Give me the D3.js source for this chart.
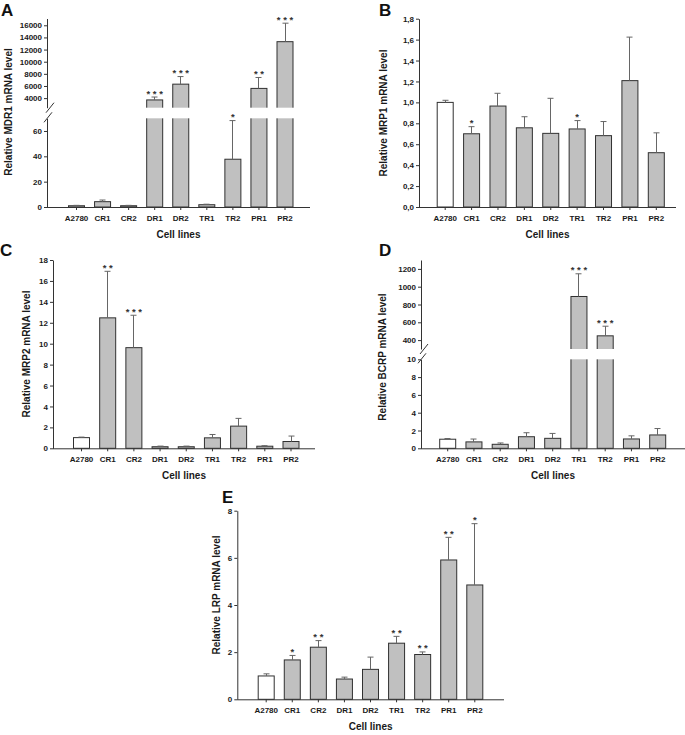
<!DOCTYPE html>
<html>
<head>
<meta charset="utf-8">
<script src="https://cdn.jsdelivr.net/npm/d3@7"></script>
<style>
  html, body { margin: 0; padding: 0; background: #fff; }
  svg { display: block; font-family: "Liberation Sans", Arial, sans-serif; }
</style>
</head>
<body>
<svg id="chart" width="685" height="735"></svg>
<script>
// ---------------- DATA ----------------
const categories = ["A2780", "CR1", "CR2", "DR1", "DR2", "TR1", "TR2", "PR1", "PR2"];

// A: MDR1
const mdr1Values = [1, 4.2, 1, 3700, 6300, 1.8, 37.7, 5600, 13300];
const mdr1Errors = [0.3, 1.3, 0.3, 480, 1250, 0.4, 30.5, 1800, 3050];
const mdr1Stars  = ["", "", "", "***", "***", "", "*", "**", "***"];
const mdr1LowerTicks = [0, 20, 40, 60];
const mdr1UpperTicks = [4000, 6000, 8000, 10000, 12000, 14000, 16000];

// B: MRP1
const mrp1Values = [1.0, 0.70, 0.965, 0.757, 0.704, 0.746, 0.682, 1.208, 0.519];
const mrp1Errors = [0.02, 0.068, 0.122, 0.106, 0.335, 0.08, 0.135, 0.416, 0.19];
const mrp1Stars  = ["", "*", "", "", "", "*", "", "", ""];
const mrp1Ticks  = [0, 0.2, 0.4, 0.6, 0.8, 1.0, 1.2, 1.4, 1.6, 1.8];

// C: MRP2
const mrp2Values = [1.02, 12.47, 9.62, 0.15, 0.15, 1.0, 2.12, 0.2, 0.65];
const mrp2Errors = [0.05, 4.45, 3.1, 0.06, 0.06, 0.32, 0.74, 0.05, 0.52];
const mrp2Stars  = ["", "**", "***", "", "", "", "", "", ""];
const mrp2Ticks  = [0, 2, 4, 6, 8, 10, 12, 14, 16, 18];

// D: BCRP
const bcrpValues = [1.02, 0.72, 0.45, 1.3, 1.12, 890, 448, 1.05, 1.5];
const bcrpErrors = [0.08, 0.32, 0.15, 0.45, 0.55, 255, 108, 0.35, 0.72];
const bcrpStars  = ["", "", "", "", "", "***", "***", "", ""];
const bcrpLowerTicks = [0, 2, 4, 6, 8, 10];
const bcrpUpperTicks = [400, 600, 800, 1000, 1200];

// E: LRP
const lrpValues = [0.99, 1.67, 2.21, 0.86, 1.27, 2.38, 1.9, 5.91, 4.85];
const lrpErrors = [0.09, 0.19, 0.28, 0.08, 0.52, 0.29, 0.11, 0.96, 2.6];
const lrpStars  = ["", "*", "**", "", "", "**", "**", "**", "*"];
const lrpTicks  = [0, 2, 4, 6, 8];

const xTitle = "Cell lines";

// ---------------- LAYOUT ----------------
const svg = d3.select("#chart");
const BAR_FILL = "#c0c0c0";
const BAR_STROKE = "#303030";
const AXIS_COLOR = "#333";
const ERR_COLOR = "#666";
const commaFmt = d => d3.format(".1f")(d).replace(".", ",");

const panels = [
  { letter: "A", lx: 1, ly: 16, values: mdr1Values, errors: mdr1Errors, stars: mdr1Stars,
    yTitle: "Relative MDR1 mRNA level", titleX: 8, titleY: 112,
    ax: 47, xEnd: 310, c0: 76, c1: 284.5, base: 207, top: 18.5,
    brk: true, lowMax: 70, lowTop: 118.3, upMin: 2420, upMax: 17120, upBottom: 107.7,
    lowTicks: mdr1LowerTicks, upTicks: mdr1UpperTicks, fmt: d3.format("d") },
  { letter: "B", lx: 379, ly: 16, values: mrp1Values, errors: mrp1Errors, stars: mrp1Stars,
    yTitle: "Relative MRP1 mRNA level", titleX: 383, titleY: 113,
    ax: 419, xEnd: 676, c0: 444.7, c1: 655.8, base: 207, top: 18.7, max: 1.8,
    ticks: mrp1Ticks, fmt: commaFmt },
  { letter: "C", lx: 0, ly: 256, values: mrp2Values, errors: mrp2Errors, stars: mrp2Stars,
    yTitle: "Relative MRP2 mRNA level", titleX: 26.5, titleY: 354,
    ax: 53, xEnd: 315, c0: 81, c1: 290.5, base: 448.3, top: 260, max: 18,
    ticks: mrp2Ticks, fmt: d3.format("d") },
  { letter: "D", lx: 379, ly: 256, values: bcrpValues, errors: bcrpErrors, stars: bcrpStars,
    yTitle: "Relative BCRP mRNA level", titleX: 382.5, titleY: 357,
    ax: 421, xEnd: 685, c0: 447.2, c1: 657.2, base: 448.3, top: 260,
    brk: true, lowMax: 10, lowTop: 359.3, upMin: 300, upMax: 1300, upBottom: 349,
    lowTicks: bcrpLowerTicks, upTicks: bcrpUpperTicks, fmt: d3.format("d") },
  { letter: "E", lx: 222, ly: 503, values: lrpValues, errors: lrpErrors, stars: lrpStars,
    yTitle: "Relative LRP mRNA level", titleX: 216, titleY: 595,
    ax: 237.3, xEnd: 504, c0: 265.7, c1: 474.3, base: 699.3, top: 510.7, max: 8,
    ticks: lrpTicks, fmt: d3.format("d") }
];

function styleAxis(sel) {
  sel.selectAll("path").attr("stroke", AXIS_COLOR);
  sel.selectAll("line").attr("stroke", AXIS_COLOR);
  sel.selectAll("text").attr("fill", "#1a1a1a").style("font-size", "8px").style("font-weight", "bold")
     .style("font-family", "'Liberation Sans', Arial, sans-serif");
}

function drawPanel(p) {
  const g = svg.append("g");
  const n = categories.length;
  const step = (p.c1 - p.c0) / (n - 1);
  const pi = 1 - 16 / step;
  const x = d3.scaleBand().domain(categories)
    .range([p.c0 - step / 2, p.c1 + step / 2])
    .paddingInner(pi).paddingOuter(pi / 2);
  const bw = x.bandwidth();

  let yLow, yUp = null;
  if (p.brk) {
    yLow = d3.scaleLinear().domain([0, p.lowMax]).range([p.base, p.lowTop]);
    yUp = d3.scaleLinear().domain([p.upMin, p.upMax]).range([p.upBottom, p.top]);
  } else {
    yLow = d3.scaleLinear().domain([0, p.max]).range([p.base, p.top]);
  }
  const y = v => (yUp && v > p.lowMax) ? yUp(v) : yLow(v);

  const data = categories.map((c, i) => ({ c, v: p.values[i], e: p.errors[i], s: p.stars[i], i }));

  // bars
  g.selectAll("rect.bar").data(data).join("rect")
    .attr("class", "bar")
    .attr("x", d => x(d.c) + 0.5)
    .attr("y", d => y(d.v))
    .attr("width", bw)
    .attr("height", d => p.base - y(d.v))
    .attr("fill", d => d.i === 0 ? "#ffffff" : BAR_FILL)
    .attr("stroke", BAR_STROKE)
    .attr("stroke-width", 1);

  // break band
  if (p.brk) {
    g.append("rect")
      .attr("x", p.ax + 1).attr("y", p.upBottom)
      .attr("width", p.xEnd - p.ax).attr("height", p.lowTop - p.upBottom)
      .attr("fill", "#ffffff");
  }

  // error bars
  const eg = g.append("g").attr("stroke", ERR_COLOR).attr("stroke-width", 1);
  data.forEach(d => {
    const cx = Math.round(x(d.c) + bw / 2) + 0.5;
    const yt = y(d.v + d.e);
    eg.append("line").attr("x1", cx).attr("x2", cx).attr("y1", y(d.v)).attr("y2", yt);
    eg.append("line").attr("x1", cx - 3).attr("x2", cx + 3).attr("y1", yt).attr("y2", yt);
  });

  // stars
  g.selectAll("text.star").data(data.filter(d => d.s)).join("text")
    .attr("class", "star")
    .attr("x", d => x(d.c) + bw / 2 + 0.5)
    .attr("y", d => y(d.v + d.e) - 0.5)
    .attr("text-anchor", "middle")
    .attr("fill", "#333")
    .style("font-size", "9.5px")
    .style("font-weight", "bold")
    .text(d => d.s.split("").join(" "));

  // y axes
  if (p.brk) {
    g.append("g").attr("transform", `translate(${p.ax},0)`)
      .call(d3.axisLeft(yLow).tickValues(p.lowTicks).tickSize(3).tickPadding(2).tickSizeOuter(0).tickFormat(p.fmt))
      .call(styleAxis);
    g.append("g").attr("transform", `translate(${p.ax},0)`)
      .call(d3.axisLeft(yUp).tickValues(p.upTicks).tickSize(3).tickPadding(2).tickSizeOuter(0).tickFormat(p.fmt))
      .call(styleAxis);
    // break marks
    const bm = g.append("g").attr("stroke", AXIS_COLOR).attr("stroke-width", 1);
    bm.append("line").attr("x1", p.ax - 1).attr("y1", p.upBottom + 5).attr("x2", p.ax + 7).attr("y2", p.upBottom - 5);
    bm.append("line").attr("x1", p.ax - 3).attr("y1", p.lowTop + 4).attr("x2", p.ax + 5).attr("y2", p.lowTop - 6);
  } else {
    g.append("g").attr("transform", `translate(${p.ax},0)`)
      .call(d3.axisLeft(yLow).tickValues(p.ticks).tickSize(3).tickPadding(2).tickSizeOuter(0).tickFormat(p.fmt))
      .call(styleAxis);
  }

  // x axis
  const xa = g.append("g").attr("transform", `translate(0,${p.base})`)
    .call(d3.axisBottom(x).tickSize(3).tickPadding(5).tickSizeOuter(0))
    .call(styleAxis);
  xa.select(".domain").remove();
  xa.selectAll(".tick").attr("transform", d => `translate(${x(d) + bw / 2 + 0.5},0)`);
  g.append("line").attr("x1", p.ax).attr("x2", p.xEnd)
    .attr("y1", p.base + 0.5).attr("y2", p.base + 0.5)
    .attr("stroke", AXIS_COLOR);

  // x title
  g.append("text")
    .attr("x", (p.ax + p.xEnd) / 2).attr("y", p.base + 31)
    .attr("text-anchor", "middle").attr("fill", "#1a1a1a")
    .style("font-size", "10px").style("font-weight", "bold")
    .text(xTitle);

  // y title
  g.append("text")
    .attr("transform", `translate(${p.titleX},${p.titleY}) rotate(-90)`)
    .attr("dy", "0.35em")
    .attr("text-anchor", "middle").attr("fill", "#1a1a1a")
    .style("font-size", "10px").style("font-weight", "bold")
    .text(p.yTitle);

  // panel letter
  g.append("text")
    .attr("x", p.lx).attr("y", p.ly)
    .attr("fill", "#111")
    .style("font-size", "17px").style("font-weight", "bold")
    .text(p.letter);
}

panels.forEach(drawPanel);
</script>
</body>
</html>
